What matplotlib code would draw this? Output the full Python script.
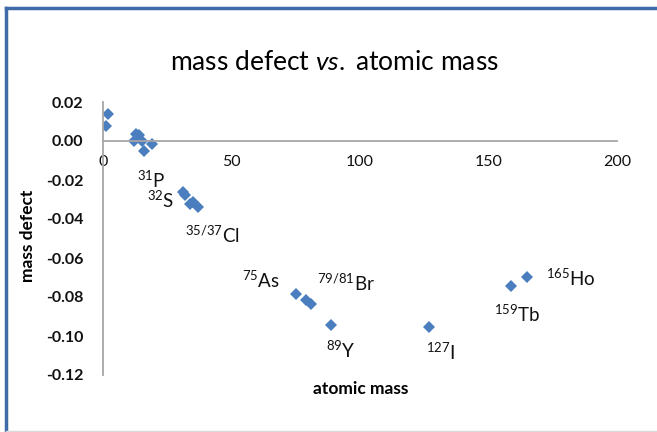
import matplotlib
matplotlib.use("Agg")
import matplotlib.pyplot as plt
from matplotlib.lines import Line2D

plt.rcParams['font.family'] = ['Lato', 'DejaVu Sans']
plt.rcParams['mathtext.fontset'] = 'custom'
plt.rcParams['mathtext.rm'] = 'Lato'
plt.rcParams['mathtext.it'] = 'Lato:italic'
plt.rcParams['mathtext.bf'] = 'Lato:bold'

# isotope masses (u) and their mass defects (u)
mass = [1.0078, 2.0141, 12.0, 13.0034, 14.0031, 15.0001, 15.9949, 18.9984,
        30.9738, 31.9721, 33.9679, 34.9689, 36.9659,
        74.9216, 78.9183, 80.9163, 88.9058, 126.9045, 158.9254, 164.9303]
defect = [0.0078, 0.0141, 0.0, 0.0034, 0.0031, 0.0001, -0.0051, -0.0016,
          -0.0262, -0.0279, -0.0321, -0.0311, -0.0341,
          -0.0784, -0.0817, -0.0837, -0.0942, -0.0955, -0.0746, -0.0697]

labels = [r'$^{31}$P', r'$^{32}$S', r'$^{35/37}$Cl', r'$^{75}$As', r'$^{79/81}$Br',
          r'$^{89}$Y', r'$^{127}$I', r'$^{159}$Tb', r'$^{165}$Ho']
# label anchor points (text baseline, centred)
label_x = [18.8, 22.6, 42.4, 61.5, 94.5, 92.6, 131.5, 161.0, 182.0]
label_y = [-0.0242, -0.0340, -0.0523, -0.0754, -0.0769, -0.1113, -0.1123, -0.0928, -0.0744]

fig = plt.figure(figsize=(6.57, 4.32), dpi=100)
ax = fig.add_axes([103/657, 1-375/432, 514/657, 273/432])

ax.plot(mass, defect, linestyle='None', marker='D', markersize=6.5,
        color='#4A7EBF', markeredgewidth=0)

for t, x, y in zip(labels, label_x, label_y):
    ax.text(x, y, t, fontsize=13.5, ha='center', va='baseline', color='#111111')

ax.set_xlim(0, 200)
ax.set_ylim(-0.12, 0.02)
ax.set_xticks([0, 50, 100, 150, 200])
ax.set_yticks([0.02, 0.0, -0.02, -0.04, -0.06, -0.08, -0.10, -0.12])
ax.set_yticklabels(['%.2f' % v for v in ax.get_yticks()])
ax.tick_params(length=0, labelsize=11.5, colors='#111111')
ax.tick_params(axis='y', pad=14)
ax.tick_params(axis='x', pad=10)
for lab in ax.get_xticklabels() + ax.get_yticklabels():
    lab.set_fontweight('bold')

ax.spines['top'].set_visible(False)
ax.spines['right'].set_visible(False)
ax.spines['bottom'].set_position(('data', 0))
for s in ('left', 'bottom'):
    ax.spines[s].set_color('#A6A6A6')
    ax.spines[s].set_linewidth(1.3)

fig.text(28/657, 1-236/432, 'mass defect', fontsize=12.5, fontweight='bold',
         rotation=90, ha='center', va='center')
fig.text(361/657, 1-389/432, 'atomic mass', fontsize=12.5,
         fontweight='bold', ha='center', va='center')
fig.text(334/657, 1-63/432, r'mass defect $\mathit{vs.}$ atomic mass',
         fontsize=19, ha='center', va='center')

# chart frame
fig.add_artist(Line2D([6/657, 6/657], [0, 1-8/432], color='#3F6BA8', lw=2.5))
fig.add_artist(Line2D([6/657, 1], [1-8/432, 1-8/432], color='#3F6BA8', lw=2.5))
fig.add_artist(Line2D([6/657, 1], [1.5/432, 1.5/432], color='#D9D9D9', lw=1))

fig.savefig('out.png', dpi=100)
